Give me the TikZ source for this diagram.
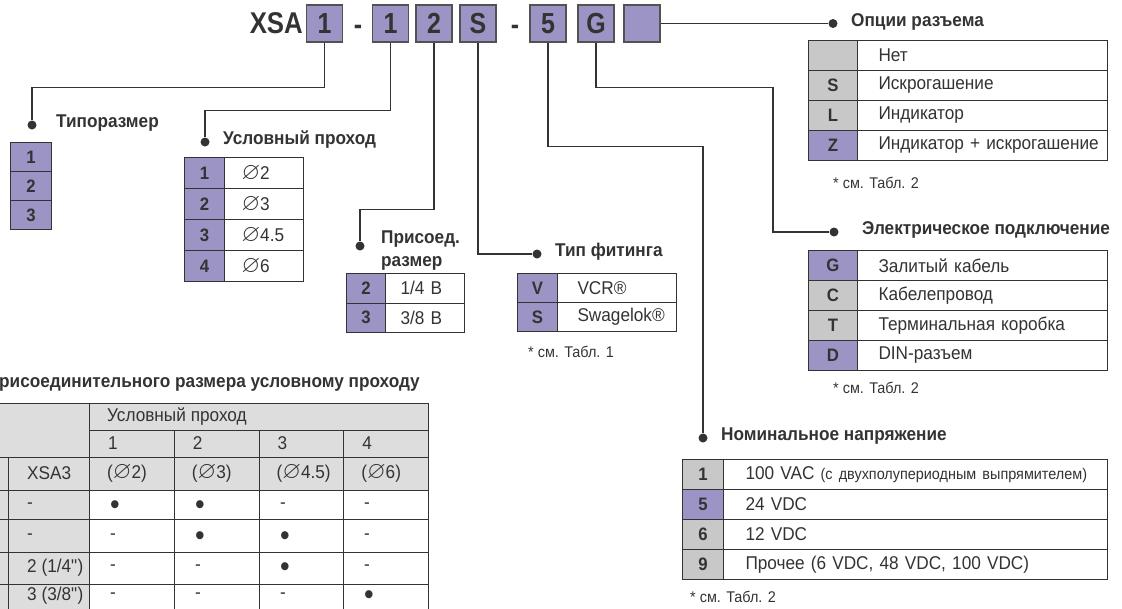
\documentclass[tikz,border=0pt]{standalone}
\usepackage{amssymb}
\usepackage{fontspec}
\setmainfont{Liberation Sans}[FakeStretch=0.93]
\newfontfamily\codefont{Liberation Sans}[FakeStretch=0.86]
\definecolor{lav}{RGB}{155,148,196}
\definecolor{keygray}{RGB}{200,200,200}
\definecolor{hdgray}{RGB}{221,221,221}
\definecolor{ink}{RGB}{51,51,51}
\newcommand{\dia}{\scalebox{1.3}{$\varnothing$}}
\newcommand{\yes}{\raisebox{-8pt}[0pt][0pt]{\scalebox{1.6}{\textbullet}}}

\begin{document}
\begin{tikzpicture}[x=1pt, y=-1pt,
  wire/.style={draw=ink, line width=1.1pt},
  grid/.style={draw=ink, line width=1pt},
  dot/.style={circle, fill=ink, inner sep=0pt, minimum size=9pt},
  code/.style={draw=ink!85, line width=1.1pt, fill=lav, text=ink, minimum width=36pt,
    minimum height=37pt, inner sep=0pt, font=\codefont\bfseries\fontsize{29}{29}\selectfont},
  minus/.style={anchor=base, inner sep=0pt, text=ink, font=\codefont\bfseries\fontsize{29}{29}\selectfont},
  head/.style={anchor=west, inner sep=0pt, text=ink, font=\bfseries\fontsize{18.5}{23}\selectfont},
  note/.style={anchor=west, inner sep=0pt, text=ink, font=\fontsize{15.5}{15.5}\selectfont},
  key/.style={draw=ink, line width=1pt, anchor=north west, inner sep=0pt, text=ink,
    font=\bfseries\fontsize{18}{18}\selectfont},
  val/.style={draw=ink, line width=1pt, anchor=north west, inner sep=0pt, text=ink,
    fill=white, align=left, font=\fontsize{18.5}{18.5}\selectfont},
  cell/.style={anchor=west, inner sep=0pt, text=ink, font=\fontsize{18.5}{18.5}\selectfont}]
  \clip (0,0) rectangle (1122,608);

  % order code
  \node[anchor=east, inner sep=0pt, text=ink, font=\codefont\bfseries\fontsize{30}{30}\selectfont] (xsa) at (303,23.5) {XSA};
  \node[code] (x1) at (324.5,23.5) {1};
  \node[minus] (m1) at (358,34) {-};
  \node[code] (x2) at (390.5,23.5) {1};
  \node[code] (x3) at (434,23.5) {2};
  \node[code] (x4) at (478,23.5) {S};
  \node[minus] (m2) at (515,34) {-};
  \node[code] (x5) at (548,23.5) {5};
  \node[code] (x6) at (596,23.5) {G};
  \node[code] (x7) at (642,23.5) {};

  % dots and headings
  \node[dot] (d-tipo) at (32,125) {};
  \node[head] (h-tipo) at (56,123) {Типоразмер};
  \node[dot] (d-usl) at (205,142) {};
  \node[head] (h-usl) at (223,140) {Условный проход};
  \node[dot] (d-pris) at (360,246) {};
  \node[head, align=left] (h-pris) at (381,251) {Присоед.\\размер};
  \node[dot] (d-fit) at (537,254) {};
  \node[head] (h-fit) at (555,252) {Тип фитинга};
  \node[dot] (d-nom) at (703,438) {};
  \node[head] (h-nom) at (721,436) {Номинальное напряжение};
  \node[dot] (d-el) at (834,232) {};
  \node[head] (h-el) at (862,230) {Электрическое подключение};
  \node[dot] (d-opt) at (833,23.5) {};
  \node[head] (h-opt) at (851,21.5) {Опции разъема};

  \coordinate (el-bend) at (773,232);
  \draw[wire] (x1.south) -- ++(0,44.5) -| (d-tipo);
  \draw[wire] (x2.south) -- ++(0,67.5) -| (d-usl);
  \draw[wire] (x3.south) -- ++(0,166.5) -| (d-pris);
  \draw[wire] (x4.south) |- (d-fit);
  \draw[wire] (x5.south) -- ++(0,104) -| (d-nom);
  \draw[wire] (x6.south) -- ++(0,45) -| (el-bend) -- (d-el);
  \draw[wire] (x7.east) -- (d-opt);

  % tables
  \foreach \k [count=\i from 0] in {1,2,3}
    \node[key, fill=lav, minimum width=41pt, minimum height=29pt] (t-k\i) at (10,{142+29*\i}) {\k};
  \foreach \k/\v [count=\i from 0] in {1/\dia2, 2/\dia3, 3/\dia4.5, 4/\dia6} {
    \node[key, fill=lav, minimum width=40pt, minimum height=31pt] (u-k\i) at (184,{157+31*\i}) {\k};
    \node[val, text width=79pt, minimum height=31pt] (u-v\i) at (224,{157+31*\i}) {\hspace*{17pt}\v};
  }
  \foreach \k/\v [count=\i from 0] in {2/{1/4 B}, 3/{3/8 B}} {
    \node[key, fill=lav, minimum width=39pt, minimum height=29.5pt] (p-k\i) at (346,{273+29.5*\i}) {\k};
    \node[val, text width=79pt, minimum height=29.5pt] (p-v\i) at (385,{273+29.5*\i}) {\hspace*{15pt}\v};
  }
  \foreach \k/\v [count=\i from 0] in {V/VCR®, S/Swagelok®} {
    \node[key, fill=lav, minimum width=40pt, minimum height=29pt] (f-k\i) at (517,{273+29*\i}) {\k};
    \node[val, text width=119pt, minimum height=29pt] (f-v\i) at (557,{273+29*\i}) {\hspace*{20pt}\v};
  }
  \node[note] (n-fit) at (528,352) {* см. Табл. 1};

  \foreach \k/\v/\c [count=\i from 0] in {/Нет/keygray, S/Искрогашение/keygray,
      L/Индикатор/keygray, Z/Индикатор + искрогашение/lav} {
    \node[key, fill=\c, minimum width=49pt, minimum height=30pt] (o-k\i) at (808,{40+30*\i}) {\k};
    \node[val, text width=250pt, minimum height=30pt] (o-v\i) at (857,{40+30*\i}) {\hspace*{21pt}\v};
  }
  \node[note] (n-opt) at (833,183) {* см. Табл. 2};

  \foreach \k/\v/\c [count=\i from 0] in {G/Залитый кабель/lav, C/Кабелепровод/keygray,
      T/Терминальная коробка/keygray, D/DIN-разъем/lav} {
    \node[key, fill=\c, minimum width=49pt, minimum height=30pt] (e-k\i) at (808,{250+30*\i}) {\k};
    \node[val, text width=250pt, minimum height=30pt] (e-v\i) at (857,{250+30*\i}) {\hspace*{21pt}\v};
  }
  \node[note] (n-el) at (833,388) {* см. Табл. 2};

  \foreach \k/\v/\c [count=\i from 0] in {1/{100 VAC {\fontsize{15.5}{15.5}\selectfont(с двухполупериодным выпрямителем)}}/keygray,
      5/24 VDC/lav, 6/12 VDC/keygray, 9/{Прочее (6 VDC, 48 VDC, 100 VDC)}/keygray} {
    \node[key, fill=\c, minimum width=41pt, minimum height=30pt] (v-k\i) at (682,{459+30*\i}) {\k};
    \node[val, text width=384pt, minimum height=30pt] (v-v\i) at (723,{459+30*\i}) {\hspace*{22pt}\v};
  }
  \node[note] (n-nom) at (690,597) {* см. Табл. 2};

  % matching table
  \node[head] (m-title) at (-1,384) {рисоединительного размера условному проходу};
  \fill[hdgray] (0,403) rectangle (428,490);
  \fill[hdgray] (0,490) rectangle (89,620);
  \draw[grid] (0,403) -- (428,403);
  \draw[grid] (89,430) -- (428,430);
  \foreach \y in {457,490,519,552,584}
    \draw[grid] (0,\y) -- (428,\y);
  \draw[grid] (89,403) -- (89,620);
  \draw[grid] (428,403) -- (428,620);
  \draw[grid] (8,457) -- (8,620);
  \foreach \x in {174,259,343}
    \draw[grid] (\x,430) -- (\x,620);
  \node[cell] (m-head) at (107,416.5) {Условный проход};
  \foreach \n/\d [count=\i from 0] in {1/2, 2/3, 3/4.5, 4/6} {
    \node[cell] (m-n\i) at ({89+84.7*\i+19},443.5) {\n};
    \node[cell] (m-d\i) at ({89+84.7*\i+18},473.5) {(\dia\d)};
  }
  \node[cell] (m-xsa) at (27,473.5) {XSA3};
  \foreach \a/\b/\c/\d/\e [count=\i from 0] in {-/\yes/\yes/-/-, -/-/\yes/\yes/-,
      {2 (1/4\textquotedbl)}/-/-/\yes/-, {3 (3/8\textquotedbl)}/-/-/-/\yes} {
    \pgfmathsetmacro{\yy}{{506,537,568,596}[\i]}
    \node[cell] (m-a\i) at (27,\yy) {\a};
    \node[cell] (m-b\i) at (110,\yy) {\b};
    \node[cell] (m-c\i) at (195,\yy) {\c};
    \node[cell] (m-d\i) at (280,\yy) {\d};
    \node[cell] (m-e\i) at (364,\yy) {\e};
  }
\end{tikzpicture}
\end{document}
